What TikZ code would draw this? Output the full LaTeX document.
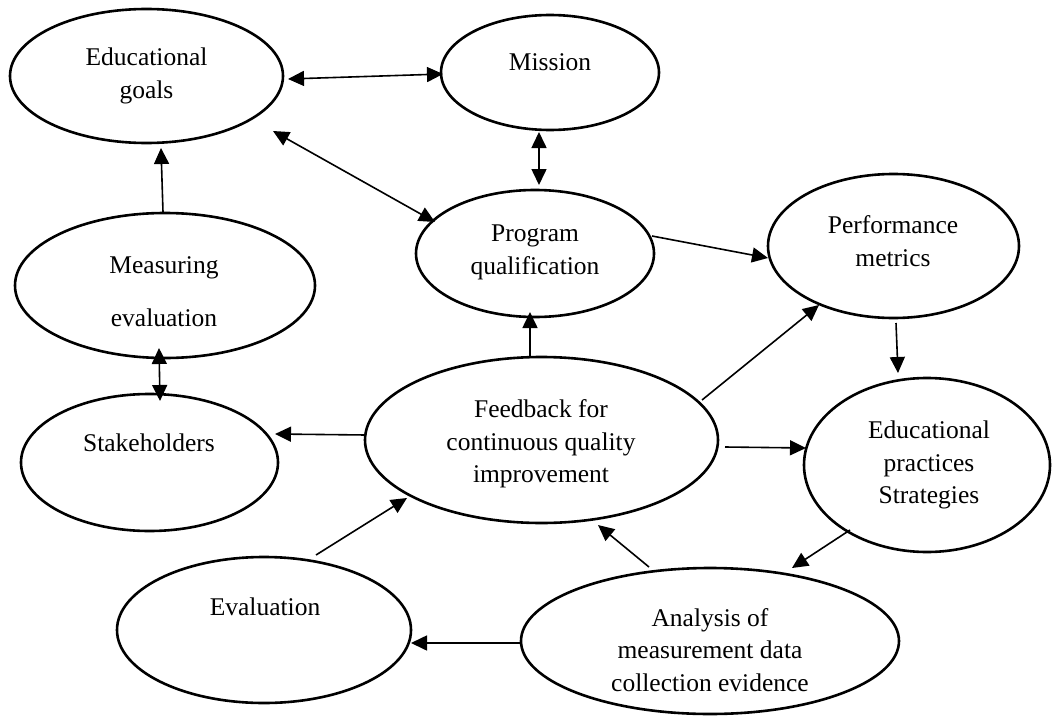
\documentclass[tikz,border=0pt]{standalone}
\usepackage{fontspec}
\setmainfont{Liberation Serif}
\usetikzlibrary{shapes.geometric,arrows.meta,calc}

\begin{document}
\begin{tikzpicture}[x=1pt,y=-1pt,
  bubble/.style 2 args={draw=black, ellipse, line width=2.6pt,
    minimum width=#1, minimum height=#2, inner sep=0pt},
  txt/.style={align=center, inner sep=0pt, text=black,
    font=\fontsize{25.5}{32.5}\selectfont},
  tip/.tip={Triangle[length=16pt,width=15pt]},
  arr/.style={line width=1.6pt, -tip},
  twoway/.style={line width=1.6pt, tip-tip}
]
\useasboundingbox (0,0) rectangle (1052,717);

% ellipses
\node[bubble={273}{134}] (eg)    at (146.5,76)  {};
\node[bubble={218}{115}] (mis)   at (550,72.5)  {};
\node[bubble={238}{127}] (prog)  at (535,253.5) {};
\node[bubble={251}{144}] (perf)  at (893.5,246) {};
\node[bubble={300}{145}] (meas)  at (165,285.5) {};
\node[bubble={257}{137}] (stake) at (149.5,462.5) {};
\node[bubble={353}{166}] (feed)  at (541.5,440) {};
\node[bubble={246}{174}] (edp)   at (927,465)   {};
\node[bubble={294}{146}] (eval)  at (264,630)   {};
\node[bubble={378}{146}] (ana)   at (710,641)   {};

% labels
\node[txt] (eg-t)    at (146.5,76)  {Educational\\goals};
\node[txt] (mis-t)   at (550,62)    {Mission};
\node[txt] (prog-t)  at (535,252.5) {Program\\qualification};
\node[txt] (perf-t)  at (893,241)   {Performance\\metrics};
\node[txt] (meas-t)  at (164,291.5) {Measuring\\[20.5pt]evaluation};
\node[txt] (stake-t) at (149,443)   {Stakeholders};
\node[txt] (feed-t)  at (541,444)   {Feedback for\\continuous quality\\improvement};
\node[txt] (edp-t)   at (929,465)   {Educational\\practices\\Strategies};
\node[txt] (eval-t)  at (265,607)   {Evaluation};
\node[txt] (ana-t)   at (710,650)   {Analysis of\\measurement data\\collection evidence};

% connectors
\draw[arr]    ($(meas)+(-2,-73.5)$)   -- ($(eg)+(14.5,72)$);
\draw[twoway] ($(eg)+(141.5,3)$)      -- ($(mis)+(-107,1.5)$);
\draw[twoway] ($(eg)+(126.5,55)$)     -- ($(prog)+(-100,-31.5)$);
\draw[twoway] ($(mis)+(-11,59.5)$)    -- ($(prog)+(4,-68.5)$);
\draw[arr]    ($(prog)+(117,-17.5)$)  -- ($(perf)+(-125.5,12)$);
\draw[arr]    ($(feed)+(-11.5,-83)$)  -- ($(prog)+(-5,58.5)$);
\draw[arr]    ($(feed)+(160.5,-40)$)  -- ($(perf)+(-74.5,59)$);
\draw[arr]    ($(perf)+(2.5,77)$)     -- ($(edp)+(-29,-92)$);
\draw[arr]    ($(feed)+(-175.5,-5)$)  -- ($(stake)+(125.5,-28.5)$);
\draw[twoway] ($(meas)+(-6,62.5)$)    -- ($(stake)+(10.5,-61.5)$);
\draw[arr]    ($(feed)+(183.5,7)$)    -- ($(edp)+(-121,-17)$);
\draw[arr]    ($(eval)+(52,-75)$)     -- ($(feed)+(-134.5,58)$);
\draw[arr]    ($(ana)+(-189,2)$)      -- ($(eval)+(147,13)$);
\draw[arr]    ($(ana)+(-61,-74)$)     -- ($(feed)+(56.5,85)$);
\draw[arr]    ($(edp)+(-77,65)$)      -- ($(ana)+(82,-73)$);
\end{tikzpicture}
\end{document}
